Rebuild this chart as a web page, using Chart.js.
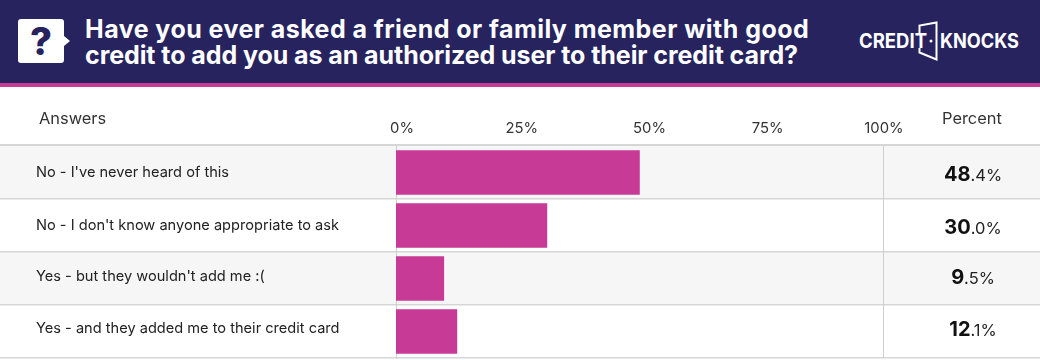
<!DOCTYPE html>
<html>
<head>
<meta charset="utf-8">
<script src="https://cdn.jsdelivr.net/npm/chart.js@4"></script>
<style>
html, body { margin: 0; padding: 0; background: #fff; }
body { width: 1040px; height: 360px; overflow: hidden; position: relative; font-family: Inter, sans-serif; }
#header { position: absolute; left: 0; top: 0; width: 1040px; height: 83px; background: #27235e; border-bottom: 4px solid #c73a95; }
#title { position: absolute; left: 85px; top: 16px; color: #fff; font-size: 25px; letter-spacing: 0.45px; font-weight: 700; line-height: 26px; white-space: nowrap; }
#title span { letter-spacing: -0.07px; }
#icon { position: absolute; left: 0; top: 0; }
.head { position: absolute; top: 108px; font-size: 16.4px; color: #333; }
canvas { position: absolute; left: 0; top: 0; }
</style>
</head>
<body>
<canvas id="graph-canvas" width="1040" height="360"></canvas>
<div id="header">
  <svg id="icon" width="1040" height="83">
    <path d="M21 19h40a3 3 0 0 1 3 3v14l6 5-6 5v14a3 3 0 0 1-3 3H21a3 3 0 0 1-3-3V22a3 3 0 0 1 3-3z" fill="#fff"/>
    <text x="41" y="55" text-anchor="middle" font-family="Inter" font-weight="800" font-size="38" fill="#27235e">?</text>
    <text x="859" y="48" font-family="Inter" font-weight="700" font-size="20" fill="#fff" textLength="68" lengthAdjust="spacingAndGlyphs">CREDIT</text>
    <circle cx="931" cy="41" r="1.5" fill="#fff"/>
    <path d="M919.5 33V25.5L936.5 22.5V59.5L919.5 52.5V48" fill="none" stroke="#fff" stroke-width="2"/>
    <text x="940" y="48" font-family="Inter" font-weight="700" font-size="20" fill="#fff" textLength="79" lengthAdjust="spacingAndGlyphs">KNOCKS</text>
  </svg>
  <div id="title">Have you ever asked a friend or family member with good<br><span>credit to add you as an authorized user to their credit card?</span></div>
</div>
<div class="head" style="left:39px">Answers</div>
<div class="head" style="left:942px">Percent</div>
<script>
// chart data
const answers = [
  "No - I've never heard of this",
  "No - I don't know anyone appropriate to ask",
  "Yes - but they wouldn't add me :(",
  "Yes - and they added me to their credit card"
];
const percents = [48.4, 30.0, 9.5, 12.1];
const tickLabels = ["0%", "25%", "50%", "75%", "100%"];
// the picture's labels do not sit exactly on their values, this is where they are on the scales
const tickPlaces = [1.2, 25, 50.4, 73.9, 97];
const answerPlaces = [0.01, 1.01, 1.96, 2.94];

const ink = "#222";
const lineColor = "#d6d6d6";

// row stripes, row lines and the percent column
const tablePlugin = {
  id: "table",
  beforeDraw(chart) {
    const ctx = chart.ctx;
    const y = chart.scales.y;
    const step = y.getPixelForValue(1) - y.getPixelForValue(0);
    ctx.save();
    answers.forEach((a, i) => {
      const top = y.getPixelForValue(i) - step / 2;
      if (i % 2 === 0) {
        ctx.fillStyle = "#f6f6f6";
        ctx.fillRect(0, top, 1040, step);
      }
    });
    answers.forEach((a, i) => {
      const top = y.getPixelForValue(i) - step / 2;
      ctx.fillStyle = lineColor;
      ctx.fillRect(0, Math.round(top + step) - 1, 1040, 1.5);
      if (i === 0) ctx.fillRect(0, Math.round(top) - 2, 1040, 2);
    });
    ctx.restore();
  },
  afterDatasetsDraw(chart) {
    const ctx = chart.ctx;
    const y = chart.scales.yLabels;
    ctx.save();
    ctx.textBaseline = "alphabetic";
    percents.forEach((p, i) => {
      const parts = p.toFixed(1).split(".");
      const whole = parts[0];
      const rest = "." + parts[1] + "%";
      const base = y.getPixelForValue(answerPlaces[i]) + 7.5;
      ctx.font = "700 20px Inter";
      const w1 = ctx.measureText(whole).width;
      ctx.font = "400 16.5px Inter";
      const w2 = ctx.measureText(rest).width;
      const left = 973 - (w1 + w2) / 2;
      ctx.fillStyle = "#111";
      ctx.font = "700 20px Inter";
      ctx.fillText(whole, left, base);
      ctx.font = "400 16.5px Inter";
      ctx.fillStyle = ink;
      ctx.fillText(rest, left + w1, base);
    });
    ctx.restore();
  }
};

const chart = new Chart(document.getElementById("graph-canvas"), {
  type: "bar",
  data: {
    labels: answers,
    datasets: [{
      data: percents,
      backgroundColor: "#c73a95",
      barThickness: 44
    }]
  },
  plugins: [tablePlugin],
  options: {
    indexAxis: "y",
    responsive: false,
    animation: false,
    layout: { padding: { left: 36, right: 141, top: 100, bottom: 2 } },
    plugins: { legend: { display: false }, tooltip: { enabled: false } },
    scales: {
      x: {
        position: "top",
        min: 0,
        max: 100,
        afterBuildTicks: scale => { scale.ticks = tickPlaces.map(v => ({ value: v })); },
        afterFit: scale => { scale.height = 46; },
        border: { display: false },
        grid: {
          drawTicks: false,
          color: c => (c.index === tickPlaces.length - 1 ? "#cfcfcf" : "transparent")
        },
        ticks: {
          autoSkip: false,
          maxRotation: 0,
          padding: 9,
          color: "#333",
          font: { family: "Inter", size: 14.8 },
          callback: (v, i) => tickLabels[i]
        }
      },
      y: { display: false },
      yLabels: {
        type: "linear",
        position: "left",
        reverse: true,
        offset: false,
        min: -0.5,
        max: 3.5,
        afterBuildTicks: scale => { scale.ticks = answerPlaces.map(v => ({ value: v })); },
        afterFit: scale => {
          scale.width = 360;
          scale.paddingTop = 0;
          scale.paddingBottom = 0;
        },
        border: { display: true, color: "#cfcfcf" },
        grid: { display: false, drawTicks: false },
        ticks: {
          autoSkip: false,
          crossAlign: "far",
          color: ink,
          font: { family: "Inter", size: 14.6 },
          callback: (v, i) => answers[i]
        }
      }
    }
  }
});
</script>
</body>
</html>
